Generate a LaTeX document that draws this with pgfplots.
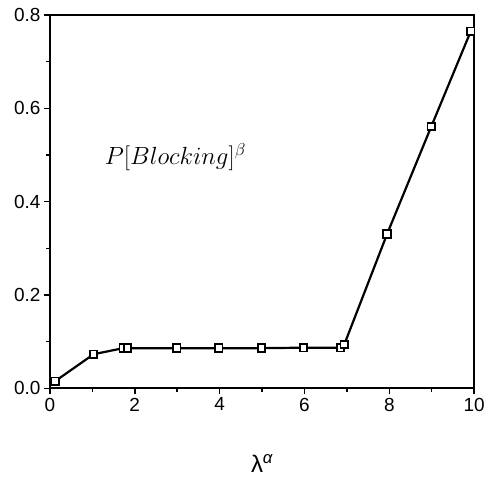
\documentclass[border=0pt]{standalone}
\usepackage{pgfplots}
\pgfplotsset{compat=1.18}
\usepackage{fontspec}
\setmainfont{Liberation Sans}
\begin{document}
\begin{tikzpicture}
\begin{axis}[
  scale only axis,
  width=425pt, height=374pt,
  xmin=0, xmax=10, ymin=0, ymax=0.8,
  xtick={0,2,4,6,8,10},
  ytick={0,0.2,0.4,0.6,0.8},
  minor xtick={1,3,5,7,9},
  minor ytick={0.1,0.3,0.5,0.7},
  tick pos=left,
  tick align=outside,
  major tick length=6pt,
  minor tick length=3.5pt,
  every tick/.style={black, line width=1.5pt},
  axis line style={line width=2pt},
  /pgf/number format/assume math mode=true,
  ticklabel style={font=\fontsize{19}{21}\selectfont},
  yticklabel style={/pgf/number format/.cd, fixed, fixed zerofill, precision=1},
  xlabel={λ\textsuperscript{\itshape α}},
  xlabel style={font=\fontsize{24}{28}\selectfont, yshift=-36pt},
  clip=false,
]
\addplot[black, line width=2.2pt, mark=square*, mark size=3.8pt,
  mark options={fill=white, line width=1.8pt}] coordinates {
  (0.12,0.015) (1.03,0.073) (1.73,0.086) (1.83,0.086) (2.99,0.086)
  (3.98,0.086) (4.99,0.086) (5.98,0.087) (6.85,0.087) (6.94,0.094)
  (7.95,0.331) (8.99,0.561) (9.92,0.765)
};
\node[anchor=base west, inner sep=0pt, font=\fontsize{25}{30}\selectfont] at (axis cs:1.29,0.479) {$P[Blocking]^{\beta}$};
\end{axis}
\path (-50pt,-96pt) rectangle (438pt,389pt);
\end{tikzpicture}
\end{document}
